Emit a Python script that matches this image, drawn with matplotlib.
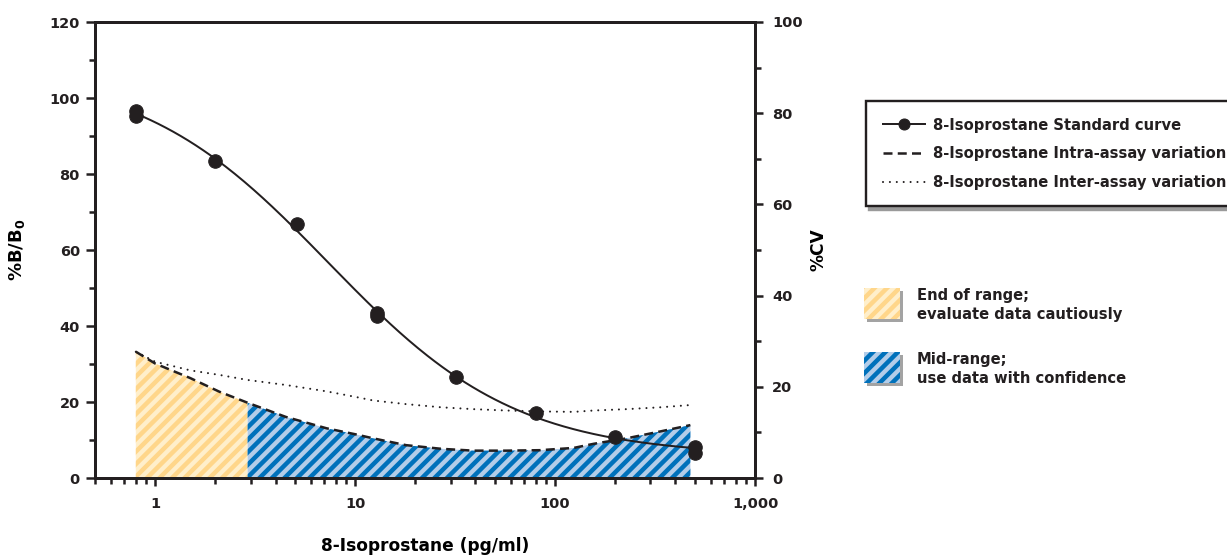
import numpy as np
import matplotlib
matplotlib.use("Agg")
import matplotlib.pyplot as plt
from matplotlib.lines import Line2D
from matplotlib.patches import Rectangle
from matplotlib.ticker import FixedLocator, FuncFormatter, LogLocator, NullFormatter

# ---------------- data ----------------
std_conc = [0.8, 0.8, 2.0, 5.1, 12.8, 12.8, 32, 80, 200, 500, 500]
std_b_b0 = [96.6, 95.3, 83.4, 66.8, 43.4, 42.6, 26.7, 17.2, 10.9, 8.2, 6.6]

cv_conc = [0.8, 1.0, 1.5, 2.1, 2.9, 4.5, 7.2, 10, 12.3, 18, 27, 39, 57, 84, 124,
           156, 228, 335, 475]
intra_cv = [27.7, 25.1, 21.9, 18.9, 16.5, 13.4, 10.9, 9.6, 8.7, 7.2, 6.4, 6.0, 6.0,
            6.1, 6.6, 7.5, 8.7, 10.2, 11.6]
inter_cv = [27.7, 25.5, 23.6, 22.6, 21.5, 20.4, 19.0, 17.8, 17.0, 16.2, 15.5, 15.1,
            14.8, 14.6, 14.5, 14.8, 15.1, 15.5, 16.0]
range_split = 2.9

x_ticks = [1, 10, 100, 1000]
left_ticks = [0, 20, 40, 60, 80, 100, 120]
right_ticks = [0, 20, 40, 60, 80, 100]

labels = ["8-Isoprostane Standard curve",
          "8-Isoprostane Intra-assay variation",
          "8-Isoprostane Inter-assay variation"]
zone_labels = ["End of range;\nevaluate data cautiously",
               "Mid-range;\nuse data with confidence"]

# ---------------- style ----------------
DPI = 75
W, H = 1227, 555
INK = "#231F20"
YEL_FACE, YEL_HATCH = "#FFEFCB", "#FFD68A"
BLU_FACE, BLU_HATCH = "#B3CDE9", "#0071BB"
plt.rcParams["font.family"] = ["DejaVu Sans"]
plt.rcParams["font.weight"] = "bold"
plt.rcParams["mathtext.default"] = "bf"
plt.rcParams["hatch.linewidth"] = 4.3
plt.rcParams["text.color"] = INK

def px2pt(p):
    return p * 72.0 / DPI

fig = plt.figure(figsize=(W / DPI, H / DPI), dpi=DPI)
ax = fig.add_axes([95 / W, 1 - 478 / H, (755 - 95) / W, (478 - 22) / H])
ax2 = ax.twinx()
ax.set_zorder(ax2.get_zorder() + 1)
ax.patch.set_visible(False)

# ---- 4PL fit of the standard curve from the points ----
xs = np.array(std_conc, float)
ys = np.array(std_b_b0, float)
bs = np.linspace(0.4, 2.5, 211)
cs = np.logspace(0, 2.3, 461)
B, C = np.meshgrid(bs, cs, indexing="ij")
G = 1.0 / (1.0 + (xs[None, None, :] / C[..., None]) ** B[..., None])
U = 1.0 - G
s_gg = (G * G).sum(-1); s_uu = (U * U).sum(-1); s_gu = (G * U).sum(-1)
s_gy = (G * ys).sum(-1); s_uy = (U * ys).sum(-1)
det = s_gg * s_uu - s_gu ** 2
A = (s_gy * s_uu - s_uy * s_gu) / det
D = (s_uy * s_gg - s_gy * s_gu) / det
res = ((A[..., None] * G + D[..., None] * U - ys) ** 2).sum(-1)
i, j = np.unravel_index(np.argmin(res), res.shape)
pa, pd, pb, pc = A[i, j], D[i, j], B[i, j], C[i, j]
xf = np.logspace(np.log10(min(std_conc)), np.log10(max(std_conc)), 300)
yf = pd + (pa - pd) / (1 + (xf / pc) ** pb)

# ---------------- CV zones & curves (right axis) ----------------
cx = np.array(cv_conc, float)
ci = np.array(intra_cv, float)
cj = np.array(inter_cv, float)
m1 = cx <= range_split
m2 = cx >= range_split
ax2.fill_between(cx[m1], 0, ci[m1], facecolor=YEL_FACE, edgecolor=YEL_HATCH,
                 hatch="//", linewidth=0, zorder=1)
ax2.fill_between(cx[m2], 0, ci[m2], facecolor=BLU_FACE, edgecolor=BLU_HATCH,
                 hatch="//", linewidth=0, zorder=1)
ax2.plot(cx, ci, color=INK, lw=2.4, dashes=(3.6, 2.1), zorder=3)
ax2.plot(cx, cj, color=INK, lw=2.0, dashes=(0.01, 3.3), dash_capstyle="round",
         zorder=3)

# ---------------- standard curve (left axis) ----------------
ax.plot(xf, yf, color=INK, lw=1.9, zorder=5)
ax.plot(xs, ys, "o", color=INK, ms=px2pt(13.5), zorder=6)

# ---------------- axes ----------------
ax.set_xscale("log")
ax.set_xlim(0.5, 1000)
ax.set_ylim(0, 120)
ax2.set_ylim(0, 100)

ax.xaxis.set_major_locator(FixedLocator(x_ticks))
ax.xaxis.set_minor_locator(LogLocator(base=10, subs=np.arange(2, 10), numticks=20))
ax.xaxis.set_minor_formatter(NullFormatter())
ax.xaxis.set_major_formatter(FuncFormatter(lambda v, p: f"{v:,.0f}"))
ax.yaxis.set_major_locator(FixedLocator(left_ticks))
ax.yaxis.set_minor_locator(FixedLocator(np.array(left_ticks[:-1]) + 10))
ax2.yaxis.set_major_locator(FixedLocator(right_ticks))
ax2.yaxis.set_minor_locator(FixedLocator(np.array(right_ticks[:-1]) + 10))

tick_fs = px2pt(14.5)
for a in (ax, ax2):
    for s in a.spines.values():
        s.set_linewidth(px2pt(3))
        s.set_color(INK)
ax.tick_params(axis="both", which="major", length=px2pt(9), width=px2pt(2.5),
               color=INK, labelsize=tick_fs, labelcolor=INK)
ax.tick_params(axis="both", which="minor", length=px2pt(6.5), width=px2pt(2.5),
               color=INK)
ax.tick_params(axis="x", which="major", pad=px2pt(11), length=px2pt(8))
ax.tick_params(axis="x", which="minor", length=px2pt(6))
ax.tick_params(axis="y", which="major", pad=px2pt(6))
ax2.tick_params(axis="y", which="major", length=px2pt(8), width=px2pt(2.5),
                color=INK, labelsize=tick_fs, labelcolor=INK, pad=px2pt(9))
ax2.tick_params(axis="y", which="minor", length=px2pt(6), width=px2pt(2.5),
                color=INK)
for lab in ax.get_xticklabels() + ax.get_yticklabels() + ax2.get_yticklabels():
    lab.set_fontweight("bold")

ax.set_xlabel("8-Isoprostane (pg/ml)", fontsize=px2pt(17), fontweight="bold")
ax.xaxis.set_label_coords(0.5, (478 - 537) / 456)
ax.set_ylabel("%B/B$_0$", fontsize=px2pt(18), fontweight="bold")
ax.yaxis.set_label_coords((27 - 95) / 660, 0.5)
ax2.set_ylabel("%CV", fontsize=px2pt(17), fontweight="bold")
ax2.yaxis.set_label_coords(1 + (810 - 755) / 660, 0.5)

# ---------------- legend: lines ----------------
handles = [
    Line2D([], [], color=INK, lw=1.9, marker="o", ms=px2pt(11)),
    Line2D([], [], color=INK, lw=2.4, dashes=(3.6, 2.1)),
    Line2D([], [], color=INK, lw=2.0, dashes=(0.01, 3.3), dash_capstyle="round"),
]
leg_fs = px2pt(14.8)
leg = fig.legend(handles, labels, loc="upper left",
                 bbox_to_anchor=(866 / W, 1 - 101 / H),
                 bbox_transform=fig.transFigure, borderaxespad=0,
                 frameon=True, fancybox=False,
                 handlelength=2.85, handletextpad=0.55, borderpad=1.12,
                 labelspacing=0.92,
                 shadow={"color": "#9a9a9a", "alpha": 1, "ox": 3, "oy": -3},
                 prop={"weight": "bold", "size": leg_fs})
leg.get_frame().set_edgecolor(INK)
leg.get_frame().set_linewidth(px2pt(2.4))
for t in leg.get_texts():
    t.set_color(INK)

# ---------------- legend: zones ----------------
zones = [(288, YEL_FACE, YEL_HATCH), (352, BLU_FACE, BLU_HATCH)]
for (top, face, hatchc), lab in zip(zones, zone_labels):
    x0, w, h = 864, 36, 31
    fig.add_artist(Rectangle(((x0 + 3) / W, 1 - (top + h + 3) / H), w / W, h / H,
                             transform=fig.transFigure, facecolor="#a3a3a3",
                             edgecolor="none", zorder=1))
    fig.add_artist(Rectangle((x0 / W, 1 - (top + h) / H), w / W, h / H,
                             transform=fig.transFigure, facecolor=face,
                             edgecolor=hatchc, hatch="//", linewidth=0, zorder=2))
    fig.text(917 / W, 1 - (top + 17) / H, lab, fontsize=px2pt(14.7),
             fontweight="bold", va="center", ha="left", linespacing=1.33,
             color=INK)

fig.savefig("out.png", dpi=DPI)
